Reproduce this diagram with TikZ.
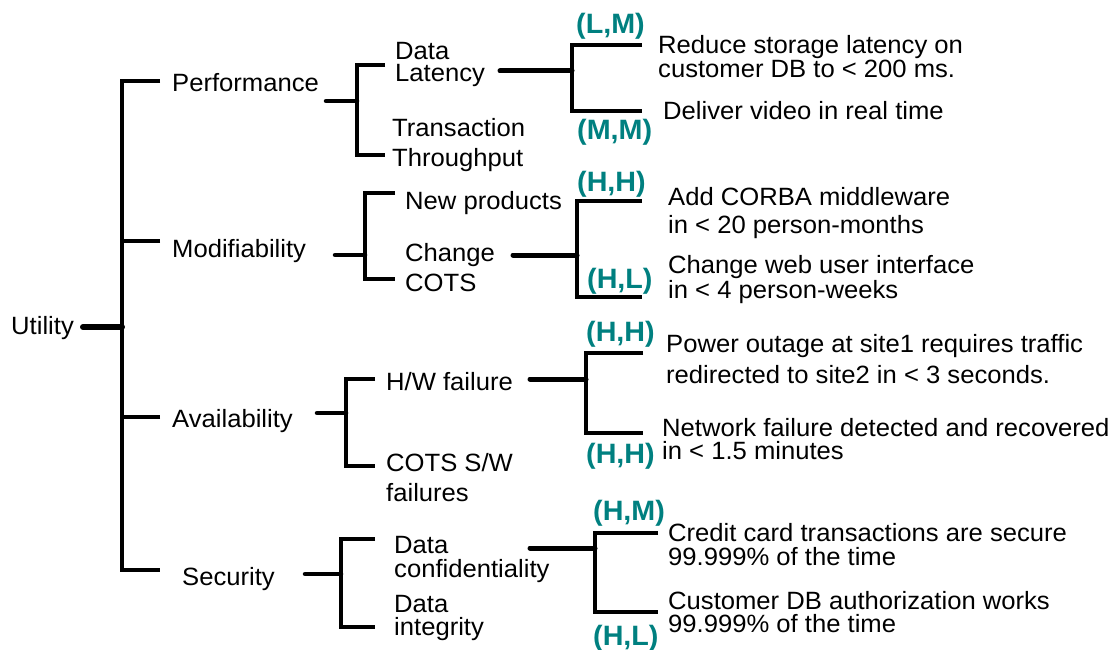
\documentclass[tikz,border=0pt]{standalone}
\usepackage{fontspec}
\setmainfont{Liberation Sans}[FakeStretch=1.025]
\definecolor{rating}{RGB}{0,128,128}
\begin{document}
\begin{tikzpicture}[x=1pt,y=-1pt,
  % multi-line texts are placed by the baseline of their last line
  txt/.style={anchor=base west,inner sep=0pt,align=left,font=\fontsize{25}{#1}\selectfont},
  txt/.default=22.4,
  rate/.style={anchor=base west,inner sep=0pt,text=rating,font=\fontsize{28}{30}\selectfont\bfseries},
  brk/.style={line width=4pt},
  stub/.style={line width=5pt,line cap=round}]
\useasboundingbox (0,0) rectangle (1117,650);

% ---- root ----
\node[txt] (util) at (11,334) {Utility};

% ---- quality attributes ----
\node[txt] (perf)  at (172,92)  {Performance};
\node[txt] (modif) at (172,257) {Modifiability};
\node[txt] (avail) at (172,427) {Availability};
\node[txt] (secur) at (182,585) {Security};

% ---- refinements ----
\node[txt]     (latency) at (395,81.7)  {Data\\Latency};
\node[txt=30]  (thru)    at (392,166.7) {Transaction\\Throughput};
\node[txt]     (newprod) at (405,209.3) {New products};
\node[txt=30]  (cots)    at (405,291.7) {Change\\COTS};
\node[txt]     (hwfail)  at (386,390)   {H/W failure};
\node[txt=30]  (swfail)  at (386,501.7) {COTS S/W\\failures};
\node[txt=24]  (conf)    at (394,577.3) {Data\\confidentiality};
\node[txt=22.7](integ)   at (394,635)   {Data\\integrity};

% ---- scenarios ----
\node[txt=22.3] (sc1) at (658,77.3)  {Reduce storage latency on\\customer DB to < 200 ms.};
\node[txt]      (sc2) at (663,120)   {Deliver video in real time};
\node[txt=28.3] (sc3) at (668,233.3) {Add CORBA middleware\\in < 20 person-months};
\node[txt=22.3] (sc4) at (668,298.3) {Change web user interface\\in < 4 person-weeks};
\node[txt=31]   (sc5) at (666,383.3) {Power outage at site1 requires traffic\\redirected to site2 in < 3 seconds.};
\node[txt=22.7] (sc6) at (662,459.4) {Network failure detected and recovered\\in < 1.5 minutes};
\node[txt=23.3] (sc7) at (668,565)   {Credit card transactions are secure\\99.999\% of the time};
\node[txt=23.4] (sc8) at (668,632.7) {Customer DB authorization works\\99.999\% of the time};

% ---- ratings (importance, difficulty) ----
\node[rate] (r1) at (576,34)  {(L,M)};
\node[rate] (r2) at (577,140) {(M,M)};
\node[rate] (r3) at (577,191) {(H,H)};
\node[rate] (r4) at (587,288) {(H,L)};
\node[rate] (r5) at (586,341) {(H,H)};
\node[rate] (r6) at (586,463) {(H,H)};
\node[rate] (r7) at (593,520) {(H,M)};
\node[rate] (r8) at (593,645) {(H,L)};

% ---- connector points ----
% root bracket
\coordinate (u-s) at (83,327);
\coordinate (u-j) at (122,327);
\coordinate (u-t) at (160,81);
\coordinate (u-m1) at (160,241);
\coordinate (u-m2) at (160,417);
\coordinate (u-b) at (160,570);
% performance
\coordinate (p-s) at (326,101);
\coordinate (p-j) at (357,101);
\coordinate (p-t) at (385,65);
\coordinate (p-b) at (385,155);
\coordinate (l-s) at (500,71);
\coordinate (l-j) at (572,71);
\coordinate (l-t) at (642,45);
\coordinate (l-b) at (642,111);
% modifiability
\coordinate (m-s) at (335,255);
\coordinate (m-j) at (365,255);
\coordinate (m-t) at (395,193);
\coordinate (m-b) at (395,279);
\coordinate (c-s) at (513,255);
\coordinate (c-j) at (577,255);
\coordinate (c-t) at (642,201);
\coordinate (c-b) at (642,297);
% availability
\coordinate (a-s) at (317,413);
\coordinate (a-j) at (346,413);
\coordinate (a-t) at (375,379);
\coordinate (a-b) at (375,466);
\coordinate (h-s) at (530,379);
\coordinate (h-j) at (586,379);
\coordinate (h-t) at (643,353);
\coordinate (h-b) at (643,433);
% security
\coordinate (s-s) at (305,574);
\coordinate (s-j) at (341,574);
\coordinate (s-t) at (375,539);
\coordinate (s-b) at (375,627);
\coordinate (d-s) at (530,548);
\coordinate (d-j) at (595,548);
\coordinate (d-t) at (658,533);
\coordinate (d-b) at (658,612);

% ---- connectors ----
\draw[stub,line width=6pt] (u-s) -- (u-j);
\draw[brk] (u-t) -| (u-j) |- (u-b);
\draw[brk] (u-m1) -- (u-m1 -| u-j);
\draw[brk] (u-m2) -- (u-m2 -| u-j);

\draw[stub,line width=4.5pt] (p-s) -- (p-j);
\draw[brk] (p-t) -| (p-j) |- (p-b);
\draw[stub] (l-s) -- (l-j);
\draw[brk] (l-t) -| (l-j) |- (l-b);

\draw[stub,line width=4.5pt] (m-s) -- (m-j);
\draw[brk] (m-t) -| (m-j) |- (m-b);
\draw[stub] (c-s) -- (c-j);
\draw[brk] (c-t) -| (c-j) |- (c-b);

\draw[stub,line width=4.5pt] (a-s) -- (a-j);
\draw[brk] (a-t) -| (a-j) |- (a-b);
\draw[stub] (h-s) -- (h-j);
\draw[brk] (h-t) -| (h-j) |- (h-b);

\draw[stub,line width=4.5pt] (s-s) -- (s-j);
\draw[brk] (s-t) -| (s-j) |- (s-b);
\draw[stub] (d-s) -- (d-j);
\draw[brk] (d-t) -| (d-j) |- (d-b);
\end{tikzpicture}
\end{document}
